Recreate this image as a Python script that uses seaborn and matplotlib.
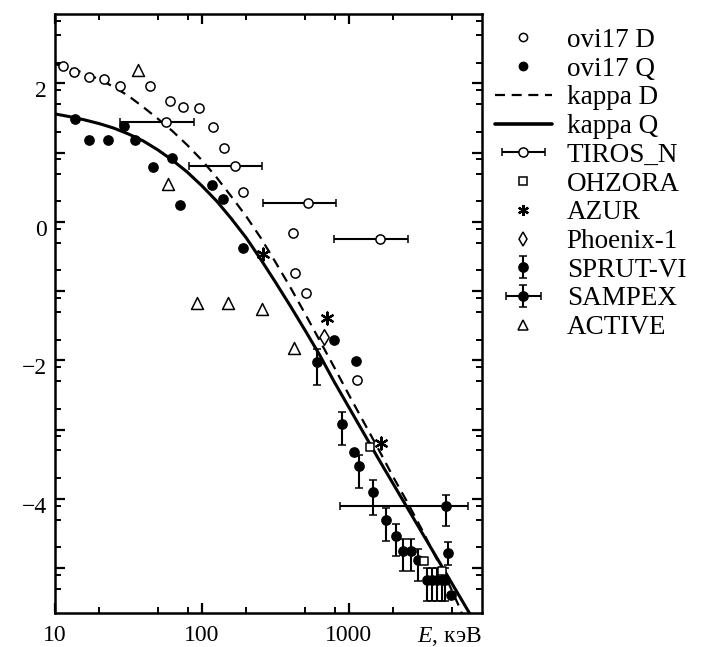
import numpy as np
import pandas as pd
import matplotlib
matplotlib.use("Agg")
import matplotlib.pyplot as plt
import seaborn as sns
from matplotlib.lines import Line2D
from matplotlib.legend_handler import HandlerErrorbar
from matplotlib.ticker import FixedLocator, NullFormatter, FixedFormatter
from matplotlib.transforms import ScaledTranslation

# ---------------- data ----------------
ovi_d_E = [11.3, 13.4, 17.1, 21.5, 27.6, 44.5, 60.8, 74.1, 96.1, 118, 141, 191, 413, 428, 508, 1127]
ovi_d_y = [2.25, 2.17, 2.10, 2.06, 1.96, 1.96, 1.75, 1.665, 1.65, 1.376, 1.07, 0.437, -0.156, -0.745, -1.02, -2.29]

ovi_q_E = [13.7, 17.1, 23.0, 29.5, 34.9, 46.4, 62.8, 71.1, 117, 140, 189, 791, 1109, 1081]
ovi_q_y = [1.49, 1.18, 1.18, 1.385, 1.18, 0.79, 0.93, 0.243, 0.528, 0.325, -0.379, -1.70, -2.01, -3.32]

kappa_d_E = [10, 12.6, 15.8, 20, 25.1, 31.6, 39.8, 50.1, 63.1, 79.4, 100, 126, 158, 200, 251,
             316, 398, 501, 631, 794, 1000, 1259, 1585, 1995, 2512, 3162, 3981, 5012, 5623, 6026]
kappa_d_y = [2.28, 2.22, 2.15, 2.06, 1.95, 1.82, 1.66, 1.49, 1.31, 1.11, 0.89, 0.64, 0.37, 0.08, -0.23,
             -0.58, -0.94, -1.32, -1.71, -2.10, -2.50, -2.89, -3.28, -3.68, -4.06, -4.46, -4.88, -5.32, -5.56, -5.72]

kappa_q_E = [10, 12.6, 15.8, 20, 25.1, 31.6, 39.8, 50.1, 63.1, 79.4, 100, 126, 158, 200, 251,
             316, 398, 501, 631, 794, 1000, 1259, 1585, 1995, 2512, 3162, 3981, 5012, 6310, 7079]
kappa_q_y = [1.56, 1.52, 1.475, 1.42, 1.355, 1.27, 1.17, 1.04, 0.89, 0.72, 0.52, 0.30, 0.05, -0.23, -0.54,
             -0.87, -1.21, -1.56, -1.92, -2.31, -2.68, -3.05, -3.42, -3.78, -4.14, -4.50, -4.86, -5.22, -5.58, -5.76]

tiros_E = [56.6, 167, 530, 1614]
tiros_y = [1.443, 0.807, 0.278, -0.253]
tiros_E_lo = [27.9, 82.2, 262, 796]
tiros_E_hi = [87.7, 258, 811, 2503]

ohzora_E = [1381, 3221, 4292]
ohzora_y = [-3.256, -4.90, -5.05]

azur_E = [262, 706, 1656]
azur_y = [-0.47, -1.385, -3.19]

phoenix_E = [677]
phoenix_y = [-1.66]

sprut_E = [604, 891, 1169, 1462, 1774, 2075, 2324, 2630, 2950, 3397, 3672, 3970, 4292, 4528, 4690, 4940]
sprut_y = [-2.027, -2.913, -3.53, -3.906, -4.30, -4.53, -4.76, -4.76, -4.89, -5.17, -5.17, -5.17, -5.17, -5.17, -4.79, -5.385]
sprut_hi = [-1.843, -2.744, -3.36, -3.73, -4.13, -4.36, -4.58, -4.58, -4.72, -5.0, -5.0, -5.0, -5.0, -5.0, -4.62, -5.385]
sprut_lo = [-2.349, -3.217, -3.84, -4.23, -4.61, -4.83, -5.05, -5.05, -5.19, -5.48, -5.48, -5.48, -5.48, -5.48, -4.95, -5.385]

sampex_E = [4605]
sampex_y = [-4.11]
sampex_E_lo = [865]
sampex_E_hi = [6442]
sampex_hi = [-3.94]
sampex_lo = [-4.39]

active_E = [36.9, 58.6, 92.2, 150, 256, 424]
active_y = [2.19, 0.542, -1.17, -1.17, -1.255, -1.82]

labels = ["ovi17 D", "ovi17 Q", "kappa D", "kappa Q", "TIROS_N", "OHZORA",
          "AZUR", "Phoenix-1", "SPRUT-VI", "SAMPEX", "ACTIVE"]

x_major = [10, 100, 1000]
x_minor = [20, 50, 80, 200, 500, 800, 2000, 5000]
y_labels = [2, 0, -2, -4]

# ---------------- style ----------------
sns.set_theme(style="ticks")
plt.rcParams["font.family"] = ["Liberation Serif", "DejaVu Serif"]
plt.rcParams["mathtext.fontset"] = "custom"
plt.rcParams["mathtext.it"] = "Liberation Serif:italic"
plt.rcParams["mathtext.rm"] = "Liberation Serif"
plt.rcParams["axes.unicode_minus"] = True

fig = plt.figure(figsize=(7.07, 6.47), dpi=100)
ax = fig.add_axes([0.0778, 0.0525, 0.6035, 0.9255])
ax.set_xscale("log")

K = "black"
ms = 6.6
mew = 1.1

# curves
sns.lineplot(x=kappa_d_E, y=kappa_d_y, ax=ax, color=K, lw=1.6, sort=False, estimator=None)
ax.lines[-1].set_dashes((4.5, 3.0))
sns.lineplot(x=kappa_q_E, y=kappa_q_y, ax=ax, color=K, lw=2.2, sort=False, estimator=None)

# errorbar series
err_kw = dict(ecolor=K, elinewidth=1.5, capsize=3.2, capthick=1.5, linestyle="none")
tiros = ax.errorbar(tiros_E, tiros_y,
                    xerr=[np.array(tiros_E) - np.array(tiros_E_lo), np.array(tiros_E_hi) - np.array(tiros_E)],
                    fmt="o", mfc="white", mec=K, ms=ms, mew=mew, zorder=3, **err_kw)
sprut = ax.errorbar(sprut_E, sprut_y,
                    yerr=[np.array(sprut_y) - np.array(sprut_lo), np.array(sprut_hi) - np.array(sprut_y)],
                    fmt="o", mfc=K, mec=K, ms=ms, mew=mew, zorder=3, **err_kw)
sampex = ax.errorbar(sampex_E, sampex_y,
                     xerr=[np.array(sampex_E) - np.array(sampex_E_lo), np.array(sampex_E_hi) - np.array(sampex_E)],
                     yerr=[np.array(sampex_y) - np.array(sampex_lo), np.array(sampex_hi) - np.array(sampex_y)],
                     fmt="o", mfc=K, mec=K, ms=ms, mew=mew, zorder=3, **err_kw)

# scatter series
s = ms ** 2
sns.scatterplot(x=ovi_d_E, y=ovi_d_y, ax=ax, marker="o", s=s, facecolor="white", edgecolor=K, linewidth=mew, zorder=4)
sns.scatterplot(x=ovi_q_E, y=ovi_q_y, ax=ax, marker="o", s=s, color=K, edgecolor=K, linewidth=mew, zorder=4)
sns.scatterplot(x=ohzora_E, y=ohzora_y, ax=ax, marker="s", s=(ms * 0.95) ** 2, facecolor="white", edgecolor=K, linewidth=mew, zorder=4)
sns.scatterplot(x=azur_E, y=azur_y, ax=ax, marker=(6, 2, 0), s=(ms * 1.3) ** 2, color=K, linewidth=1.6, zorder=4)
sns.scatterplot(x=phoenix_E, y=phoenix_y, ax=ax, marker="d", s=(ms * 1.2) ** 2, facecolor="white", edgecolor=K, linewidth=mew, zorder=4)
sns.scatterplot(x=active_E, y=active_y, ax=ax, marker="^", s=(ms * 1.3) ** 2, facecolor="white", edgecolor=K, linewidth=mew, zorder=4)

# ---------------- axes ----------------
ax.set_xlim(10, 8000)
ax.set_ylim(-5.65, 3.0)
ax.xaxis.set_major_locator(FixedLocator(x_major))
ax.xaxis.set_major_formatter(FixedFormatter([str(v) for v in x_major]))
ax.xaxis.set_minor_locator(FixedLocator(x_minor))
ax.xaxis.set_minor_formatter(NullFormatter())

y_major = list(range(-5, 3))
y_minor = [n + f for n in range(-6, 3) for f in (np.log10(2), np.log10(5), np.log10(8))]
ax.yaxis.set_major_locator(FixedLocator(y_major))
ax.yaxis.set_major_formatter(FixedFormatter([("\u2212%d" % -v if v < 0 else "%d" % v) if v in y_labels else "" for v in y_major]))
ax.yaxis.set_minor_locator(FixedLocator(y_minor))

ax.tick_params(which="both", direction="in", top=True, right=True, colors=K, labelsize=17)
ax.tick_params(which="major", length=7, width=1.6)
ax.tick_params(which="minor", length=4.5, width=1.4)
ax.tick_params(axis="x", which="major", pad=8.5)
ax.tick_params(axis="y", which="major", pad=6)
for sp in ax.spines.values():
    sp.set_linewidth(1.8)
    sp.set_color(K)
ax.set_xlabel("")
ax.set_ylabel("")
ax.grid(False)

# y tick labels sit slightly below their ticks in the reference
shift = ScaledTranslation(0, -6 / 100, fig.dpi_scale_trans)
for tk in ax.yaxis.get_major_ticks():
    tk.label1.set_transform(tk.label1.get_transform() + shift)

ax.text(1.0, -0.0484, r"$E$, кэВ", transform=ax.transAxes, ha="right", va="baseline", fontsize=17, color=K)

# ---------------- legend ----------------
h_ovi_d = Line2D([], [], ls="none", marker="o", ms=ms * 0.9, mfc="white", mec=K, mew=mew)
h_ovi_q = Line2D([], [], ls="none", marker="o", ms=ms * 0.9, mfc=K, mec=K, mew=mew)
h_kd = Line2D([], [], color=K, lw=1.6, dashes=(4.5, 3.0))
h_kq = Line2D([], [], color=K, lw=2.6)
h_oh = Line2D([], [], ls="none", marker="s", ms=ms * 0.8, mfc="white", mec=K, mew=mew)
h_az = Line2D([], [], ls="none", marker=(6, 2, 0), ms=ms * 1.2, color=K, mew=1.6)
h_ph = Line2D([], [], ls="none", marker="d", ms=ms * 1.1, mfc="white", mec=K, mew=mew)
h_ac = Line2D([], [], ls="none", marker="^", ms=ms * 1.0, mfc="white", mec=K, mew=mew)

handles = [h_ovi_d, h_ovi_q, h_kd, h_kq, tiros, h_oh, h_az, h_ph, sprut, sampex, h_ac]
leg = ax.legend(handles, labels, loc="upper left", bbox_to_anchor=(0.700, 0.957),
                bbox_transform=fig.transFigure, frameon=False, fontsize=19.5,
                handlelength=2.1, handletextpad=0.55, labelspacing=0.138,
                borderpad=0, borderaxespad=0,
                handler_map={tiros: HandlerErrorbar(xerr_size=0.79),
                             sprut: HandlerErrorbar(xerr_size=0.28, yerr_size=0.4),
                             sampex: HandlerErrorbar(xerr_size=0.65, yerr_size=0.4)})
for t in leg.get_texts():
    t.set_color(K)

fig.savefig("out.png", dpi=100)
